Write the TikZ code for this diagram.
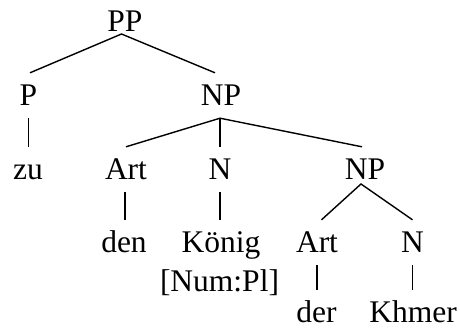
\documentclass[tikz,border=0pt]{standalone}
\usepackage{fontspec}
\setmainfont{Liberation Serif}
\begin{document}
\begin{tikzpicture}[x=1pt,y=-1pt,
  lab/.style={anchor=base,inner sep=0pt,text height=32pt,text depth=13pt,font=\fontsize{31.5}{36}\selectfont},
  leaf/.style={lab,text depth=2pt},
  edge/.style={line width=1.4pt,black}]
\useasboundingbox (0,0) rectangle (460,329);
\node[lab] (PP) at (125,32) {PP};
\node[lab] (P) at (28.5,105) {P};
\node[lab] (NP) at (221,105) {NP};
\node[leaf] (zu) at (28,179) {zu};
\node[lab] (Art) at (126,179) {Art};
\node[lab] (N) at (220,179) {N};
\node[lab] (NPb) at (365,179) {NP};
\node[leaf] (den) at (124,252) {den};
\node[leaf] (Koenig) at (221,252) {König};
\node[leaf] (Num) at (219.5,291) {[Num:Pl]};
\node[lab] (Artb) at (317,252) {Art};
\node[lab] (Nb) at (412.5,252) {N};
\node[leaf] (der) at (316.5,322) {der};
\node[leaf] (Khmer) at (413,322) {Khmer};
\draw[edge] ([xshift=1.5pt]P.north) -- ([xshift=-3.5pt,yshift=-2pt]PP.base) -- ([xshift=-6pt]NP.north);
\draw[edge] (Art.north) -- ([xshift=-1pt]NP.south) -- ([xshift=-3pt]NPb.north);
\draw[edge] ([xshift=-1pt]NP.south) -- ([xshift=-1pt]NP.south |- N.north);
\draw[edge] ([xshift=4.5pt]Artb.north) -- ([xshift=-4pt,yshift=-5pt]NPb.base) -- (Nb.north);
\draw[edge] (P.south) -- (P.south |- zu.north);
\draw[edge] ([xshift=-1pt]Art.south) -- ([xshift=-1pt]Art.south |- den.north);
\draw[edge] (N.south) -- (N.south |- Koenig.north);
\draw[edge] (Artb.south) -- (Artb.south |- der.north);
\draw[edge] (Nb.south) -- (Nb.south |- Khmer.north);
\end{tikzpicture}
\end{document}
